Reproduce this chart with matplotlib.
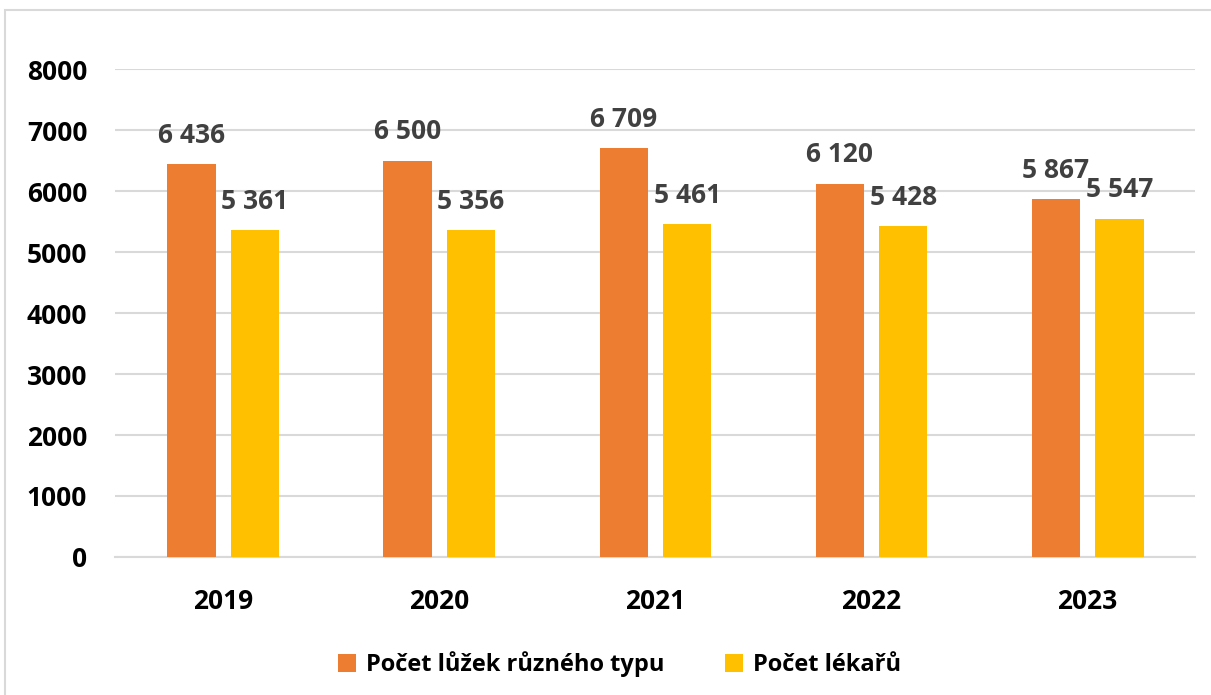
import matplotlib.pyplot as plt
from matplotlib.patches import Rectangle
import numpy as np

years = ["2019", "2020", "2021", "2022", "2023"]
beds = [6436, 6500, 6709, 6120, 5867]
doctors = [5361, 5356, 5461, 5428, 5547]
series_names = ["Počet lůžek různého typu", "Počet lékařů"]

plt.rcParams["font.family"] = ["Open Sans", "DejaVu Sans"]
plt.rcParams["font.weight"] = "bold"

fig = plt.figure(figsize=(12.11, 6.95), dpi=100)
ax = fig.add_axes([0.095, 0.1986, 0.892, 0.702])

# light frame around the chart
fig.patches.append(Rectangle((0.004, -0.01), 1.2, 0.996, transform=fig.transFigure,
                             fill=False, edgecolor="#d9d9d9", linewidth=1.5))

x = np.arange(len(years))
w = 0.225
b1 = ax.bar(x - 0.145, beds, w, color="#ED7D31", label=series_names[0], zorder=3)
b2 = ax.bar(x + 0.148, doctors, w, color="#FFC000", label=series_names[1], zorder=3)

def fmt(v):
    return f"{v:,}".replace(",", " ")

for bars in (b1, b2):
    ax.bar_label(bars, labels=[fmt(v) for v in bars.datavalues], padding=11,
                 fontsize=19, fontweight="bold", color="#404040")

ax.set_xlim(-0.5, 4.5)
ax.set_ylim(0, 8000)
ax.set_yticks(range(0, 8001, 1000))
ax.set_xticks(x)
ax.set_xticklabels(years)
ax.tick_params(length=0, labelsize=19)
ax.tick_params(axis="x", pad=22)
ax.tick_params(axis="y", pad=20)
for lab in ax.get_xticklabels() + ax.get_yticklabels():
    lab.set_fontweight("bold")

ax.grid(axis="y", color="#d9d9d9", linewidth=1.5, zorder=0)
for s in ["top", "right", "left"]:
    ax.spines[s].set_visible(False)
ax.spines["bottom"].set_color("#d9d9d9")
ax.spines["bottom"].set_linewidth(1.5)

ax.legend(loc="center", bbox_to_anchor=(0.467, -0.22), ncol=2, frameon=False,
          fontsize=17, handlelength=0.75, handleheight=0.75, handletextpad=0.4,
          columnspacing=2.6)

fig.savefig("out.png", dpi=100)
